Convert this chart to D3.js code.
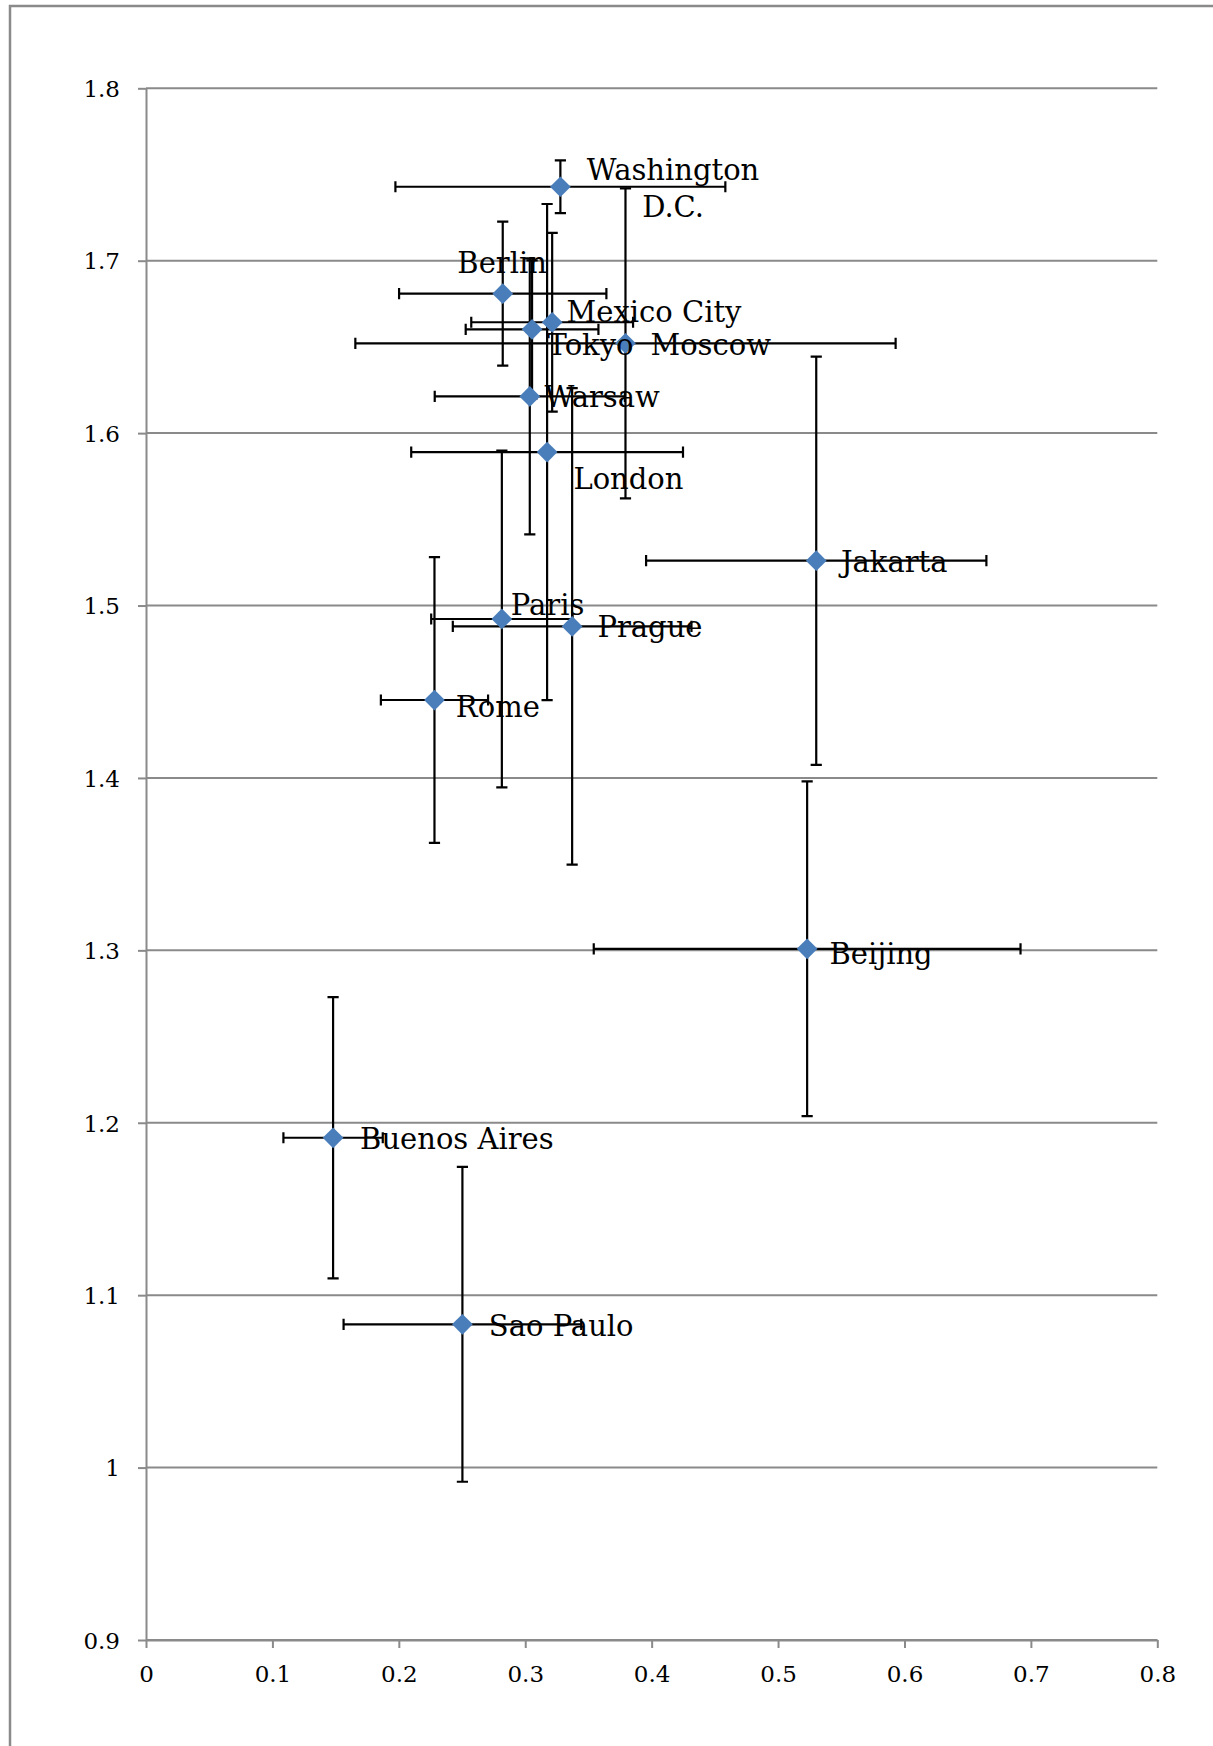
<!DOCTYPE html>
<html>
<head>
<meta charset="utf-8">
<script src="https://cdn.jsdelivr.net/npm/d3@7"></script>
<style>
  html, body { margin: 0; padding: 0; background: #ffffff; }
  svg { display: block; }
  .tick text { font-family: "DejaVu Serif", serif; }
</style>
</head>
<body>
<svg id="chart" width="1213" height="1746"></svg>
<script>
// City means with ± error on both axes
const cities = [
  "Washington D.C.", "Berlin", "Mexico City", "Tokyo", "Moscow", "Warsaw",
  "London", "Paris", "Prague", "Rome", "Jakarta", "Beijing",
  "Buenos Aires", "Sao Paulo"
];
const xValues = [0.3278, 0.2822, 0.3213, 0.3054, 0.3793, 0.3036,
                 0.3173, 0.2815, 0.3371, 0.2282, 0.5302, 0.5230,
                 0.1480, 0.2503];
const yValues = [1.7429, 1.6809, 1.6643, 1.6602, 1.6521, 1.6213,
                 1.5890, 1.4922, 1.4879, 1.4452, 1.5260, 1.3009,
                 1.1913, 1.0831];
const xErrors = [0.1305, 0.0820, 0.0640, 0.0525, 0.2137, 0.0752,
                 0.1075, 0.0559, 0.0944, 0.0424, 0.1346, 0.1688,
                 0.0393, 0.0940];
const yErrors = [0.0153, 0.0418, 0.0518, 0.0400, 0.0899, 0.0800,
                 0.1439, 0.0977, 0.1382, 0.0829, 0.1184, 0.0971,
                 0.0816, 0.0913];

const xTickValues = [0, 0.1, 0.2, 0.3, 0.4, 0.5, 0.6, 0.7, 0.8];
const yTickValues = [0.9, 1, 1.1, 1.2, 1.3, 1.4, 1.5, 1.6, 1.7, 1.8];

// Hand-placed label offsets (pixels from the marker to the text baseline start)
const labelPlacement = {
  "Washington D.C.": { dx: 112.7, dy: -6.7, anchor: "middle", wrap: true },
  "Berlin":       { dx: -45.4, dy: -20.4 },
  "Mexico City":  { dx: 14.4,  dy: -0.6 },
  "Tokyo":        { dx: 15.5,  dy: 25.3 },
  "Moscow":       { dx: 25.0,  dy: 11.7 },
  "Warsaw":       { dx: 14.6,  dy: 10.4 },
  "London":       { dx: 26.3,  dy: 37.3 },
  "Paris":        { dx: 9.0,   dy: -4.0 },
  "Prague":       { dx: 25.3,  dy: 11.0 },
  "Rome":         { dx: 21.4,  dy: 16.7 },
  "Jakarta":      { dx: 24.7,  dy: 11.0 },
  "Beijing":      { dx: 22.3,  dy: 15.3 },
  "Buenos Aires": { dx: 27.0,  dy: 11.3 },
  "Sao Paulo":    { dx: 26.4,  dy: 11.4 }
};

const points = cities.map((name, i) => ({
  name, x: xValues[i], y: yValues[i], ex: xErrors[i], ey: yErrors[i]
}));

const svg = d3.select("#chart");
const gridColor = "#8a8a8a";
const markerColor = "#4a7ebb";
const serif = "'DejaVu Serif', serif";

// Outer chart frame
svg.append("rect")
  .attr("x", 10).attr("y", 6)
  .attr("width", 1400).attr("height", 1900)
  .attr("fill", "none")
  .attr("stroke", gridColor)
  .attr("stroke-width", 2.5);

const plot = { left: 146, right: 1157.3, top: 88.3, bottom: 1640 };

const x = d3.scaleLinear().domain([0, 0.8]).range([plot.left, plot.right]);
const y = d3.scaleLinear().domain([0.9, 1.8]).range([plot.bottom, plot.top]);

const fmt = d => String(+d.toFixed(1));

// Horizontal gridlines
svg.append("g")
  .selectAll("line")
  .data(yTickValues)
  .join("line")
  .attr("x1", plot.left).attr("x2", plot.right)
  .attr("y1", d => y(d)).attr("y2", d => y(d))
  .attr("stroke", gridColor)
  .attr("stroke-width", 2);

// Y axis
const yAxis = svg.append("g")
  .attr("transform", `translate(${plot.left},0)`)
  .call(d3.axisLeft(y).tickValues(yTickValues).tickFormat(fmt)
    .tickSize(8).tickSizeOuter(0).tickPadding(18));
yAxis.select(".domain").attr("stroke", gridColor).attr("stroke-width", 2);
yAxis.selectAll(".tick line").attr("stroke", gridColor).attr("stroke-width", 2);
yAxis.selectAll(".tick text")
  .attr("font-size", 23).attr("fill", "#000")
  .attr("font-family", serif)
  .attr("dy", "0.36em");

// X axis
const xAxis = svg.append("g")
  .attr("transform", `translate(0,${plot.bottom})`)
  .call(d3.axisBottom(x).tickValues(xTickValues).tickFormat(fmt)
    .tickSize(8).tickSizeOuter(0).tickPadding(10));
xAxis.select(".domain").attr("stroke", gridColor).attr("stroke-width", 2);
xAxis.selectAll(".tick line").attr("stroke", gridColor).attr("stroke-width", 2);
xAxis.selectAll(".tick text")
  .attr("font-size", 23).attr("fill", "#000")
  .attr("font-family", serif)
  .attr("y", 26).attr("dy", "0.71em");

// Error bars with end caps
const cap = 5.6;
const bars = svg.append("g")
  .attr("stroke", "#000")
  .attr("stroke-width", 2.2)
  .attr("fill", "none");

const barGroups = bars.selectAll("g").data(points).join("g");

barGroups.append("path")
  .attr("d", d => {
    const x0 = x(d.x - d.ex), x1 = x(d.x + d.ex), cy = y(d.y);
    return `M${x0},${cy}H${x1}M${x0},${cy - cap}V${cy + cap}M${x1},${cy - cap}V${cy + cap}`;
  });

barGroups.append("path")
  .attr("d", d => {
    const y0 = y(d.y + d.ey), y1 = y(d.y - d.ey), cx = x(d.x);
    return `M${cx},${y0}V${y1}M${cx - cap},${y0}H${cx + cap}M${cx - cap},${y1}H${cx + cap}`;
  });

// Diamond markers
svg.append("g")
  .selectAll("path")
  .data(points)
  .join("path")
  .attr("transform", d => `translate(${x(d.x)},${y(d.y)}) rotate(45)`)
  .attr("d", d3.symbol(d3.symbolSquare, 215))
  .attr("fill", markerColor);

// Data labels
const labels = svg.append("g")
  .attr("font-family", serif)
  .attr("font-size", 29)
  .attr("fill", "#000");

points.forEach(d => {
  const p = labelPlacement[d.name];
  const t = labels.append("text")
    .attr("x", x(d.x) + p.dx)
    .attr("y", y(d.y) + p.dy)
    .attr("text-anchor", p.anchor || "start");
  if (p.wrap) {
    const cut = d.name.lastIndexOf(" ");
    const parts = [d.name.slice(0, cut), d.name.slice(cut + 1)];
    parts.forEach((s, i) => {
      t.append("tspan")
        .attr("x", x(d.x) + p.dx)
        .attr("dy", i === 0 ? 0 : 37)
        .text(s);
    });
  } else {
    t.text(d.name);
  }
});
</script>
</body>
</html>
